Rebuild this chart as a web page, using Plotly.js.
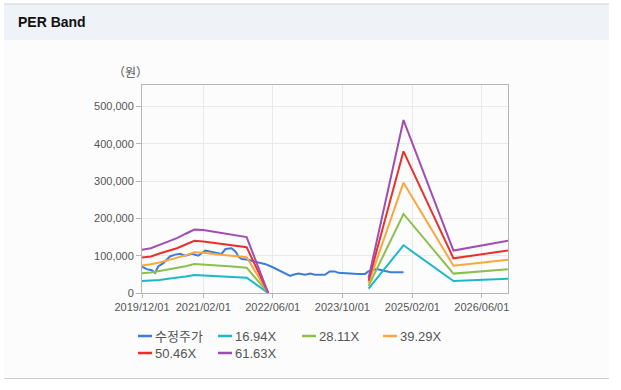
<!DOCTYPE html>
<html>
<head>
<meta charset="utf-8">
<script src="https://cdn.plot.ly/plotly-3.0.1.min.js"></script>
<style>
html,body{margin:0;padding:0;background:#ffffff;}
#chart{width:621px;height:390px;}
</style>
</head>
<body>
<div id="chart"></div>
<script>
// ---- data ----
const priceDates = ['2019-12-01','2020-01-03','2020-02-07','2020-03-01','2020-03-23','2020-04-28','2020-06-13','2020-07-19','2020-08-22','2020-09-27','2020-11-13','2020-12-28','2021-02-15','2021-03-19','2021-05-04','2021-06-09','2021-07-06','2021-08-18','2021-09-15','2021-10-04','2021-10-28','2021-12-13','2022-01-16','2022-02-21','2022-04-07','2022-05-22','2022-07-09','2022-08-25','2022-10-01','2022-10-22','2022-11-28','2023-01-13','2023-02-18','2023-03-22','2023-06-01','2023-07-04','2023-08-09','2023-09-02','2023-11-10','2024-01-19','2024-03-07','2024-03-29','2024-05-28','2024-07-15','2024-09-01','2024-12-01'];
const price = [71000,64000,61000,54000,71000,80000,98000,103000,105000,100000,105000,100000,114000,111000,107000,105000,118000,120000,111000,98000,91000,89000,85000,82000,78000,71000,62000,54000,46000,49000,52000,49000,52000,49000,49000,58000,58000,54000,52000,51000,51000,58000,64000,61000,56000,56000];

const bandDates = ['2019-12-01','2020-02-01','2020-04-01','2020-06-01','2020-08-01','2020-10-01','2020-12-01','2021-02-01','2021-05-01','2021-08-01','2021-12-01','2022-05-01','2023-01-01','2024-04-01','2024-12-01','2025-11-15','2026-12-01'];
const band1694 = [32000,33000,35000,38000,40000,44000,48000,47000,45000,43000,41000,0,null,12000,128000,32000,38000];
const band2811 = [53000,55000,59000,63000,67000,72000,78000,77000,75000,72000,68000,0,null,19000,212000,52000,64000];
const band3929 = [74000,77000,82000,88000,94000,101000,109000,108000,104000,100000,96000,0,null,26000,296000,73000,89000];
const band5046 = [95000,98000,106000,113000,120000,130000,140000,138000,134000,129000,123000,0,null,33000,380000,93000,114000];
const band6163 = [116000,120000,129000,138000,147000,159000,170000,169000,164000,157000,150000,0,null,40000,464000,114000,140000];

const seriesNames = ['수정주가','16.94X','28.11X','39.29X','50.46X','61.63X'];
const tickDates = ['2019-12-01','2021-02-01','2022-06-01','2023-10-01','2025-02-01','2026-06-01'];
const tickLabels = ['2019/12/01','2021/02/01','2022/06/01','2023/10/01','2025/02/01','2026/06/01'];
const yTicks = [0,100000,200000,300000,400000,500000];

// ---- styles ----
const colors = ['#3b7dd8','#1cb8c9','#8dbf4f','#f9a73e','#e8312c','#a04db3'];
const W = 621, H = 390;
const M = {l:142, r:113, t:85, b:97};
const pw = W - M.l - M.r, ph = H - M.t - M.b;
const px = x => (x - M.l) / pw;
const py = y => (H - M.b - y) / ph;

const bands = [band1694, band2811, band3929, band5046, band6163];
const traces = [{
  x: priceDates, y: price, type:'scatter', mode:'lines', name: seriesNames[0],
  line:{color:colors[0], width:2}
}];
bands.forEach((b,i)=>{
  traces.push({x:bandDates, y:b, type:'scatter', mode:'lines', name:seriesNames[i+1],
    line:{color:colors[i+1], width:2}, connectgaps:false});
});

const font = 'Liberation Sans, Arial, Noto Sans CJK KR, sans-serif';

// compact legend (symbol + label), laid out in a 4-column grid like the original
const legendPos = [[138,336],[218,336],[302,336],[383,336],[138,353],[218,353]];
const legendShapes = [], legendAnns = [];
seriesNames.forEach((n,i)=>{
  const [lx,ly] = legendPos[i];
  legendShapes.push({type:'line', xref:'paper', yref:'paper', x0:px(lx), x1:px(lx+14), y0:py(ly), y1:py(ly),
    line:{color:colors[i], width:2.5}});
  legendAnns.push({xref:'paper', yref:'paper', x:px(lx+15), y:py(ly), xanchor:'left', yanchor:'middle',
    showarrow:false, text:n, font:{family:font, size:13, color:'#555'}});
});

const layout = {
  width:W, height:H, margin:M,
  paper_bgcolor:'#ffffff', plot_bgcolor:'#ffffff',
  font:{family:font, size:11, color:'#555'},
  showlegend:false,
  xaxis:{type:'date', range:['2019-12-01','2026-12-01'], tickvals:tickDates, ticktext:tickLabels,
    showgrid:true, gridcolor:'#e9e9e9', gridwidth:1, zeroline:false,
    showline:true, linecolor:'#b5b5b5', linewidth:1, mirror:true,
    ticks:'outside', ticklen:4, tickcolor:'#b5b5b5',
    tickfont:{family:font, size:11, color:'#555'}, fixedrange:true},
  yaxis:{range:[0,558000], tickvals:yTicks, tickformat:',d',
    showgrid:true, gridcolor:'#e9e9e9', gridwidth:1, zeroline:false,
    showline:true, linecolor:'#b5b5b5', linewidth:1, mirror:true,
    ticks:'outside', ticklen:5, tickcolor:'#b5b5b5',
    tickfont:{family:font, size:11, color:'#555'}, fixedrange:true},
  shapes:[
    {type:'rect', xref:'paper', yref:'paper', x0:px(4), x1:px(609), y0:py(378), y1:py(40), fillcolor:'#fcfcfc', line:{width:0}, layer:'below'},
    {type:'rect', xref:'paper', yref:'paper', x0:px(4), x1:px(609), y0:py(40), y1:py(4), fillcolor:'#eff2f7', line:{width:0}, layer:'below'},
    {type:'line', xref:'paper', yref:'paper', x0:px(4), x1:px(609), y0:py(4), y1:py(4), line:{color:'#d3d3d3', width:1}},
    {type:'line', xref:'paper', yref:'paper', x0:px(4), x1:px(609), y0:py(378.5), y1:py(378.5), line:{color:'#cfcfcf', width:1}}
  ].concat(legendShapes),
  annotations:[
    {xref:'paper', yref:'paper', x:px(16), y:py(22), xanchor:'left', yanchor:'middle', showarrow:false,
     text:'<b>PER Band</b>', font:{family:font, size:14, color:'#111'}},
    {xref:'paper', yref:'paper', x:px(130), y:py(71), xanchor:'center', yanchor:'middle', showarrow:false,
     text:'（원）', font:{family:'Noto Sans CJK KR, sans-serif', size:12, color:'#555'}}
  ].concat(legendAnns)
};
Plotly.newPlot('chart', traces, layout, {staticPlot:true, displayModeBar:false});
</script>
</body>
</html>
